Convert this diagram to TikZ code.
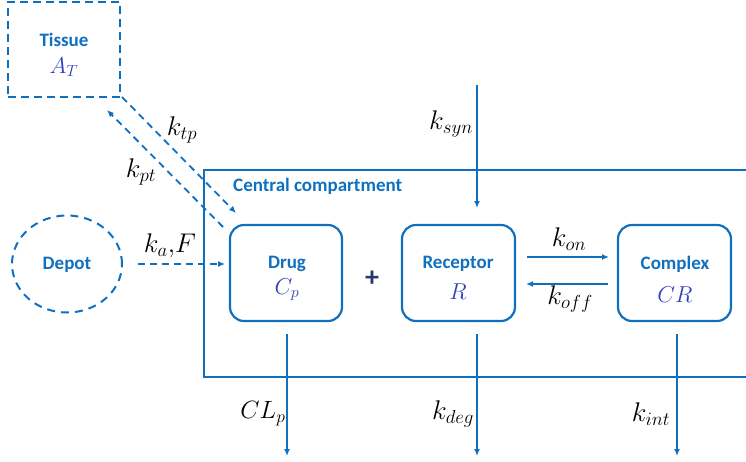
\RequirePackage{fix-cm}
\documentclass[tikz,border=0pt]{standalone}
\usepackage{fontspec}
\usepackage{anyfontsize}
\newfontfamily\labfont{Carlito}
\usetikzlibrary{arrows.meta,shapes.geometric}
\definecolor{mblue}{RGB}{16,112,192}
\definecolor{mvar}{RGB}{52,62,190}
\definecolor{navy}{RGB}{40,56,110}
\tikzset{
  conn/.style={draw=mblue,line width=1.8pt,-{Latex[length=7pt,width=6pt]}},
  dconn/.style={conn,dash pattern=on 7pt off 5pt},
  cbox/.style={draw=mblue,line width=2.2pt,rounded corners=14pt,minimum width=#1,minimum height=96pt,inner sep=0pt},
  lab/.style={font=\labfont\bfseries\fontsize{19}{22}\selectfont,text=mblue,inner sep=0pt},
  mvarl/.style={font=\fontsize{23}{27}\selectfont,text=mvar,inner sep=0pt,anchor=base},
  rate/.style={font=\fontsize{27}{32}\selectfont,inner sep=1pt},
}
\begin{document}
\begin{tikzpicture}[x=1pt,y=-1pt]
\useasboundingbox (0,0) rectangle (746,461);
% central compartment
\draw[mblue,line width=2pt] (752,170) -- (204,170) -- (204,377) -- (752,377);
\node[lab,anchor=west] (cc) at (233,186) {Central compartment};
% tissue
\node[draw=mblue,line width=2pt,dash pattern=on 8pt off 5pt,minimum width=112pt,minimum height=95pt,inner sep=0pt] (tis) at (64,49.5) {};
\node[lab] (tisl) at (64,40) {Tissue};
\node[mvarl] (tism) at (64,73) {$A_T$};
% depot
\node[draw=mblue,line width=2pt,dash pattern=on 8pt off 6pt,ellipse,minimum width=110pt,minimum height=97pt,inner sep=0pt] (dep) at (67,264) {};
\node[lab] (depl) at (67,265) {Depot};
% boxes
\node[cbox=112pt] (drug) at (286,273) {};
\node[lab] (drugl) at (287,264) {Drug};
\node[mvarl] (drugm) at (287,294) {$C_p$};
\node[cbox=113pt] (rec) at (458.5,273) {};
\node[lab] (recl) at (458,264) {Receptor};
\node[mvarl] (recm) at (458,299) {$R$};
\node[cbox=113pt] (cpx) at (674.5,273) {};
\node[lab] (cpxl) at (675,264) {Complex};
\node[mvarl] (cpxm) at (675,302) {$CR$};
\node[text=navy,font=\labfont\bfseries\fontsize{28}{30}\selectfont,inner sep=0pt] (plus) at (372,279) {+};
% kon / koff
\coordinate (a1) at (527,257); \coordinate (a2) at (609,257);
\coordinate (b1) at (608,284); \coordinate (b2) at (526,284);
\draw[conn] (a1) -- (a2);
\draw[conn] (b1) -- (b2);
\node[rate] (kon) at (569,239) {$k_{on}$};
\node[rate] (koff) at (570,299) {$k_{off}$};
% ksyn
\coordinate (s0) at (477,85); \coordinate (s1) at (477,208);
\draw[conn] (s0) -- (s1);
\node[rate] (ksyn) at (451,124) {$k_{syn}$};
% outflows
\coordinate (o1) at (287,456); \coordinate (o2) at (477,456); \coordinate (o3) at (677,456);
\draw[conn] (drug.south -| o1) ++(0,12) -- (o1);
\draw[conn] (rec.south -| o2) ++(0,12) -- (o2);
\draw[conn] (cpx.south -| o3) ++(0,12) -- (o3);
\node[rate,font=\fontsize{25}{30}\selectfont] (clp) at (263,414) {$CL_p$};
\node[rate] (kdeg) at (453,414) {$k_{deg}$};
\node[rate] (kint) at (651,414) {$k_{int}$};
% depot -> drug
\coordinate (d0) at (138,264); \coordinate (d1) at (225,264);
\draw[dconn] (d0) -- (d1);
\node[rate] (ka) at (170,246) {$k_a{,}F$};
% tissue <-> drug
\coordinate (t0) at (122,97); \coordinate (t1) at (236,213);
\coordinate (p0) at (223,227); \coordinate (p1) at (107,110);
\draw[dconn] (t0) -- (t1);
\draw[dconn] (p0) -- (p1);
\node[rate] (ktp) at (182,130) {$k_{tp}$};
\node[rate] (kpt) at (141,172) {$k_{pt}$};
\end{tikzpicture}
\end{document}
